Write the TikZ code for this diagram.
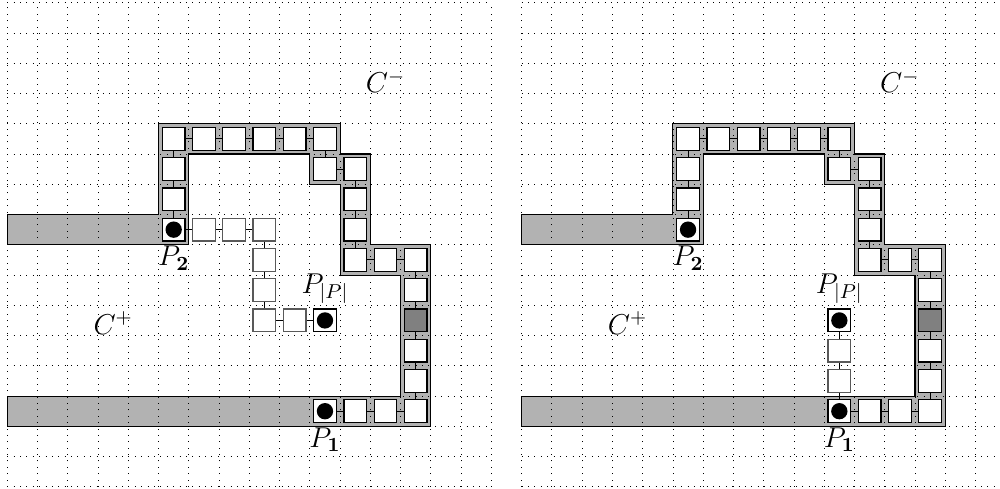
\documentclass[tikz,border=0pt]{standalone}
\usepackage{fix-cm}
\usepackage{tikz}
\usetikzlibrary{positioning}

\begin{document}
\begin{tikzpicture}[
    x=5mm, y=5mm,
    gridline/.style={line width=0.4pt, dash pattern=on 0.4pt off 2.6pt, step=5mm},
    band/.style={fill=black!30, draw=black, line width=0.5pt},
    cell/.style={rectangle, draw=black, fill=white, line width=0.6pt, minimum size=3.75mm, inner sep=0pt},
    pathcell/.style={cell, draw=black!65},
    darkcell/.style={cell, fill=black!50},
    endcell/.style={cell, path picture={\fill[black] (path picture bounding box.center) circle (1.35mm);}},
    link/.style={line width=0.4pt},
    lbl/.style={inner sep=2pt, font=\fontsize{13.5}{16}\selectfont}
]
    \useasboundingbox (-0.24,-0.07) rectangle (32.81,16.09);

    \foreach \pn/\dx/\gw in {a/0/16, b/17/15.8} {
    \begin{scope}[shift={(\dx,0)}]
        % Corridor
        \draw[band] (0,9) -- (5,9) -- (5,12) -- (11,12) -- (11,11) -- (12,11) -- (12,8) -- (14,8)
            -- (14,2) -- (0,2) -- (0,3) -- (13,3) -- (13,7) -- (11,7) -- (11,10) -- (10,10)
            -- (10,11) -- (6,11) -- (6,8) -- (0,8) -- cycle;
        \draw[gridline] (0,0) grid (\gw,16);

        % Cells along the corridor, from P_1 to P_2
        \foreach \x/\y/\s [count=\i] in {10.5/2.5/endcell, 11.5/2.5/cell, 12.5/2.5/cell, 13.5/2.5/cell,
            13.5/3.5/cell, 13.5/4.5/cell, 13.5/5.5/darkcell, 13.5/6.5/cell, 13.5/7.5/cell,
            12.5/7.5/cell, 11.5/7.5/cell, 11.5/8.5/cell, 11.5/9.5/cell, 11.5/10.5/cell,
            10.5/10.5/cell, 10.5/11.5/cell, 9.5/11.5/cell, 8.5/11.5/cell, 7.5/11.5/cell,
            6.5/11.5/cell, 5.5/11.5/cell, 5.5/10.5/cell, 5.5/9.5/cell, 5.5/8.5/endcell}
            \node[\s] (\pn\i) at (\x,\y) {};
        \foreach \i [evaluate=\i as \j using int(\i+1)] in {1,...,23}
            \draw[link] (\pn\i) -- (\pn\j);

        % Labels
        \node[lbl, below=0pt of \pn1] (\pn P1) {$P_{\mathbf{1}}$};
        \node[lbl, below=0pt of \pn24] (\pn P2) {$P_{\mathbf{2}}$};
        \node[lbl] (\pn Cp) at (3.5,5.42) {$C^{+}$};
        \node[lbl] (\pn Cm) at (12.5,13.4) {$C^{-}$};
    \end{scope}
    }

    % Left: path from P_2 to P_|P|
    \foreach \x/\y/\s [count=\i] in {6.5/8.5/pathcell, 7.5/8.5/pathcell, 8.5/8.5/pathcell,
        8.5/7.5/pathcell, 8.5/6.5/pathcell, 8.5/5.5/pathcell, 9.5/5.5/pathcell, 10.5/5.5/endcell}
        \node[\s] (ap\i) at (\x,\y) {};
    \draw[link] (a24) -- (ap1);
    \foreach \i [evaluate=\i as \j using int(\i+1)] in {1,...,7}
        \draw[link] (ap\i) -- (ap\j);
    \node[lbl, above=0pt of ap8] (aPn) {$P_{|P|}$};

    % Right: path from P_1 to P_|P|
    \foreach \x/\y/\s [count=\i] in {27.5/3.5/pathcell, 27.5/4.5/pathcell, 27.5/5.5/endcell}
        \node[\s] (bp\i) at (\x,\y) {};
    \draw[link] (b1) -- (bp1);
    \draw[link] (bp1) -- (bp2);
    \draw[link] (bp2) -- (bp3);
    \node[lbl, above=0pt of bp3] (bPn) {$P_{|P|}$};
\end{tikzpicture}
\end{document}
